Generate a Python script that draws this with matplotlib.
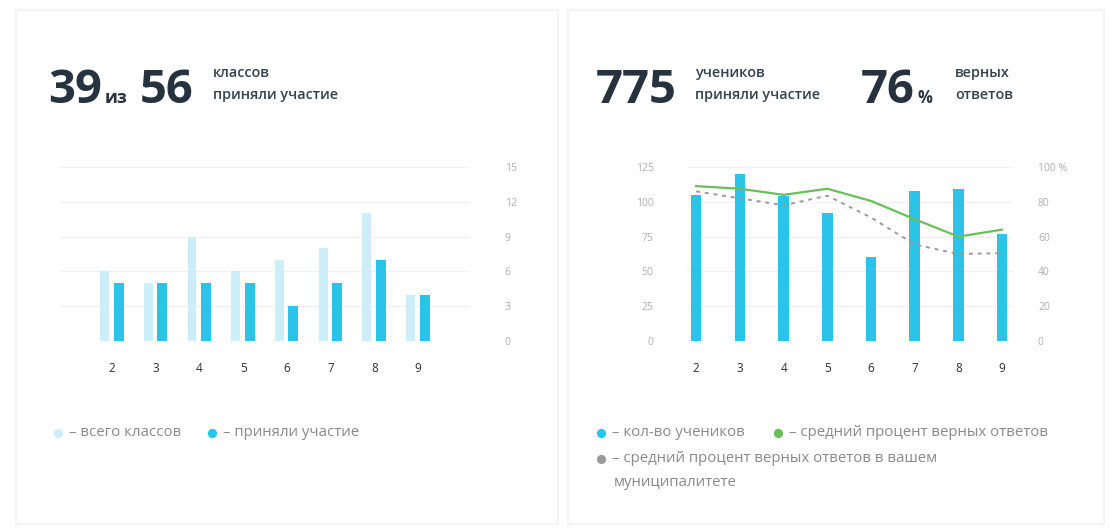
import matplotlib
matplotlib.use("Agg")
import matplotlib.pyplot as plt
from matplotlib.patches import Rectangle

plt.rcParams['font.family'] = ['Open Sans', 'DejaVu Sans']

# data
grades = [2, 3, 4, 5, 6, 7, 8, 9]
total_classes = [6, 5, 9, 6, 7, 8, 11, 4]
part_classes = [5, 5, 5, 5, 3, 5, 7, 4]

students = [105, 120, 104, 92, 60, 108, 109, 77]
pct_avg = [89, 87.5, 84, 87.5, 80.5, 70, 60, 64]
pct_muni = [86, 82, 78, 83.5, 71, 55.5, 50, 50.5]

left_ticks = [0, 3, 6, 9, 12, 15]
stud_ticks = [0, 25, 50, 75, 100, 125]
pct_ticks = [0, 20, 40, 60, 80, 100]
pct_labels = ['0', '20', '40', '60', '80', '100 %']

CYAN = '#2cc3e8'
LIGHT = '#cbeef9'
GREEN = '#6abf5a'
GRAY = '#9a9a9a'
DARK = '#26323d'
SUB = '#34424c'
TXT = '#8a8a8a'
TICK = '#b0b0b0'

W, H = 1109, 529
fig = plt.figure(figsize=(W / 100, H / 100), dpi=100)
fig.patch.set_facecolor('white')


def px(x0, y0, x1, y1):
    # pixel box -> figure fraction
    return [x0 / W, 1 - y1 / H, (x1 - x0) / W, (y1 - y0) / H]


# background overlay in pixel coords
bg = fig.add_axes([0, 0, 1, 1])
bg.set_xlim(0, W)
bg.set_ylim(H, 0)
bg.axis('off')
for x0, x1 in [(16, 558), (568, 1104)]:
    bg.add_patch(Rectangle((x0, 10), x1 - x0, 514, facecolor='white',
                           edgecolor='#f4f4f4', lw=1.5))

# ---------- left chart ----------
ax = fig.add_axes(px(60, 167, 470, 341))
xs = list(range(len(grades)))
ax.bar([x - 0.17 for x in xs], total_classes, width=0.2, color=LIGHT, zorder=2)
ax.bar([x + 0.15 for x in xs], part_classes, width=0.23, color=CYAN, zorder=2)
ax.set_xlim(-1.19, 8.19)
ax.set_ylim(0, 15)
ax.set_yticks(left_ticks)
ax.yaxis.tick_right()
ax.tick_params(axis='y', length=0, pad=25, labelsize=7.5, labelcolor=TICK)
ax.set_xticks(xs)
ax.set_xticklabels([str(g) for g in grades])
ax.tick_params(axis='x', length=0, pad=15, labelsize=8.5, labelcolor='#2e2e2e')
ax.grid(axis='y', color='#f1f1f1', lw=1, zorder=0)
for s in ax.spines.values():
    s.set_visible(False)
ax.set_facecolor('none')

# ---------- right chart ----------
ax2 = fig.add_axes(px(687, 167, 1013, 341))
ax2.bar(xs, students, width=0.24, color=CYAN, zorder=2)
ax2.set_xlim(-0.21, 7.25)
ax2.set_ylim(0, 125)
ax2.set_yticks(stud_ticks)
ax2.tick_params(axis='y', length=0, pad=24, labelsize=7.5, labelcolor=TICK)
ax2.set_xticks(xs)
ax2.set_xticklabels([str(g) for g in grades])
ax2.tick_params(axis='x', length=0, pad=15, labelsize=8.5, labelcolor='#2e2e2e')
ax2.grid(axis='y', color='#f1f1f1', lw=1, zorder=0)
for s in ax2.spines.values():
    s.set_visible(False)
ax2.set_facecolor('none')

ax3 = ax2.twinx()
ax3.plot(xs, pct_avg, color=GREEN, lw=1.6, zorder=3)
ax3.plot(xs, pct_muni, color=GRAY, lw=1.4, ls=(0, (2, 2.5)), zorder=3)
ax3.set_ylim(0, 100)
ax3.set_yticks(pct_ticks)
ax3.set_yticklabels(pct_labels)
ax3.tick_params(axis='y', length=0, pad=18, labelsize=7.5, labelcolor=TICK)
for s in ax3.spines.values():
    s.set_visible(False)

# ---------- headers ----------
big = dict(fontsize=34, fontweight='bold', color=DARK, va='baseline')
sub = dict(fontsize=10.4, fontweight='semibold', color=SUB, va='center')
bg.text(48, 103, '39', **big)
bg.text(105, 103, 'из', fontsize=13, fontweight='bold', color=DARK, va='baseline')
bg.text(140, 103, '56', **big)
bg.text(213, 73, 'классов', **sub)
bg.text(213, 95, 'приняли участие', **sub)

bg.text(596, 103, '775', **big)
bg.text(695, 73, 'учеников', **sub)
bg.text(695, 95, 'приняли участие', **sub)
bg.text(861, 103, '76', **big)
bg.text(918, 103, '%', fontsize=12, fontweight='bold', color=DARK, va='baseline')
bg.text(955, 73, 'верных', **sub)
bg.text(955, 95, 'ответов', **sub)

# ---------- legends ----------
leg = dict(fontsize=10.8, color=TXT, va='center')
bg.scatter([58], [433], s=32, color=LIGHT, zorder=3)
bg.text(69, 433, '– всего классов', **leg)
bg.scatter([212], [433], s=32, color=CYAN, zorder=3)
bg.text(223, 433, '– приняли участие', **leg)

bg.scatter([601], [433], s=32, color=CYAN, zorder=3)
bg.text(612, 433, '– кол-во учеников', **leg)
bg.scatter([778], [433], s=32, color=GREEN, zorder=3)
bg.text(789, 433, '– средний процент верных ответов', **leg)
bg.scatter([601], [459], s=32, color=GRAY, zorder=3)
bg.text(612, 459, '– средний процент верных ответов в вашем', **leg)
bg.text(614, 482, 'муниципалитете', **leg)

fig.savefig('out.png', dpi=100, facecolor='white')
